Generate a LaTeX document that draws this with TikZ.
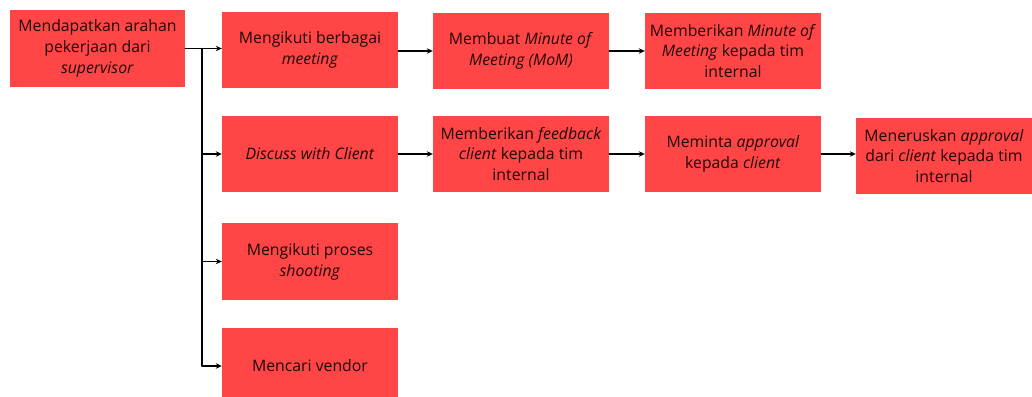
\documentclass[tikz,border=0pt]{standalone}
\usepackage{fontspec}
\setmainfont{Open Sans}
\usetikzlibrary{arrows.meta,positioning}
\definecolor{boxred}{RGB}{255,69,69}
\definecolor{boxtext}{RGB}{30,8,8}
\tikzset{
  task/.style={fill=boxred,text=boxtext,align=center,inner sep=0pt,
    minimum width=176pt,minimum height=76pt,
    font=\fontsize{15.8}{20.8}\selectfont},
  flow/.style={line width=1.4pt,-{Stealth[length=6pt,width=5.5pt]}},
  trunk/.style={line width=1.4pt}
}

\begin{document}
\begin{tikzpicture}[line cap=round,line join=round,x=1pt,y=-1pt]
  \useasboundingbox (0,0) rectangle (1032,396);
  % kolom pertama
  \node[task,minimum width=175pt,minimum height=77pt] (sup) at (97.5,48.5)
    {Mendapatkan arahan\\pekerjaan dari\\\textit{supervisor}};
  % kolom kedua
  \node[task] (meet) at (310,50) {Mengikuti berbagai\\\textit{meeting}};
  \node[task] (disc) at (310,154) {\textit{Discuss with Client}};
  \node[task,minimum height=77pt] (shoot) at (310,261.5) {Mengikuti proses\\\textit{shooting}};
  \node[task] (vend) at (310,366) {Mencari vendor};
  % baris meeting
  \node[task] (mom) at (521,51) {Membuat \textit{Minute of}\\\textit{Meeting (MoM)}};
  \node[task] (memom) at (733,51) {Memberikan \textit{Minute of}\\\textit{Meeting} kepada tim\\internal};
  % baris client
  \node[task] (feed) at (521,154) {Memberikan \textit{feedback}\\\textit{client} kepada tim\\internal};
  \node[task] (appr) at (733,154) {Meminta \textit{approval}\\kepada \textit{client}};
  \node[task] (mene) at (944,156) {Meneruskan \textit{approval}\\dari \textit{client} kepada tim\\internal};

  % cabang dari supervisor
  \coordinate (split) at (202,48.5);
  \draw[flow] (sup.east) -- (sup.east -| meet.west);
  \draw[trunk] (split) -- (split |- vend.west);
  \draw[flow] (split |- disc.west) -- (disc.west);
  \draw[flow] (split |- shoot.west) -- (shoot.west);
  \draw[flow] (split |- vend.west) -- (vend.west);

  % alur ke kanan
  \draw[flow] (meet.east |- mom.west) -- (mom.west);
  \draw[flow] (mom.east) -- (memom.west);
  \draw[flow] (disc.east) -- (feed.west);
  \draw[flow] (feed.east) -- (appr.west);
  \draw[flow] (appr.east) -- (appr.east -| mene.west);
\end{tikzpicture}
\end{document}
